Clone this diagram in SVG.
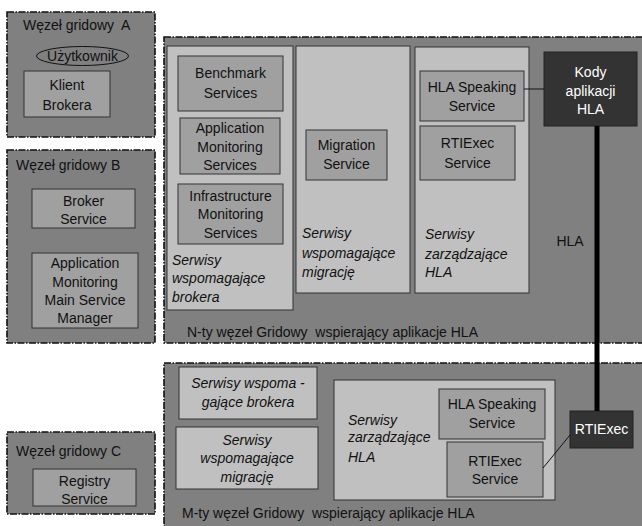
<svg xmlns="http://www.w3.org/2000/svg" width="642" height="526" viewBox="0 0 642 526">
<style>
.node{fill:#808080;stroke:#111;stroke-width:1.6;stroke-dasharray:7 1.5 1.5 1.5}
.panel{fill:#c0c0c0;stroke:#333;stroke-width:1}
.svc{fill:#a0a0a0;stroke:#333;stroke-width:1}
.dark{fill:#333333;stroke:#222;stroke-width:1}
text{font-family:"Liberation Sans",Arial,sans-serif;font-size:14px;fill:#111}
.c{text-anchor:middle}
.i{font-style:italic}
.w{fill:#fff}
</style>
<rect width="642" height="526" fill="#fff"/>
<g id="node-a">
<rect class="node" x="7" y="12" width="148" height="125"/>
<text x="23" y="30" xml:space="preserve">Węzeł gridowy  A</text>
<ellipse cx="82.5" cy="56" rx="46" ry="9.5" fill="none" stroke="#111" stroke-width="1"/>
<text class="c" x="82.5" y="61">Użytkownik</text>
<rect class="svc" x="24" y="71" width="86" height="46"/>
<text class="c" x="67" y="90">Klient</text>
<text class="c" x="67" y="110">Brokera</text>
</g>
<g id="node-b">
<rect class="node" x="7" y="150" width="148" height="193"/>
<text x="16" y="170">Węzeł gridowy B</text>
<rect class="svc" x="32" y="189" width="103" height="39"/>
<text class="c" x="83.5" y="206">Broker</text>
<text class="c" x="83.5" y="224">Service</text>
<rect class="svc" x="32" y="253" width="106" height="75"/>
<text class="c" x="85" y="268">Application</text>
<text class="c" x="85" y="287">Monitoring</text>
<text class="c" x="85" y="305">Main Service</text>
<text class="c" x="85" y="323">Manager</text>
</g>
<g id="node-c">
<rect class="node" x="7" y="432" width="148" height="82"/>
<text x="16" y="456">Węzeł gridowy C</text>
<rect class="svc" x="33" y="469" width="103" height="37"/>
<text class="c" x="84.5" y="486">Registry</text>
<text class="c" x="84.5" y="504">Service</text>
</g>
<g id="node-n">
<rect class="node" x="164" y="37" width="490" height="306"/>
<rect class="panel" x="167" y="46" width="126" height="264"/>
<rect class="panel" x="296" y="46" width="114" height="247"/>
<rect class="panel" x="415" y="47" width="114" height="246"/>
<rect class="svc" x="178" y="56" width="105" height="55"/>
<text class="c" x="230.5" y="78">Benchmark</text>
<text class="c" x="230.5" y="98">Services</text>
<rect class="svc" x="180" y="118" width="100" height="56"/>
<text class="c" x="230" y="133">Application</text>
<text class="c" x="230" y="152">Monitoring</text>
<text class="c" x="230" y="170">Services</text>
<rect class="svc" x="178" y="184" width="105" height="60"/>
<text class="c" x="230.5" y="201">Infrastructure</text>
<text class="c" x="230.5" y="219">Monitoring</text>
<text class="c" x="230.5" y="238">Services</text>
<text class="i" x="172" y="265">Serwisy</text>
<text class="i" x="172" y="283">wspomagające</text>
<text class="i" x="172" y="302">brokera</text>
<rect class="svc" x="306" y="130" width="81" height="50"/>
<text class="c" x="346.5" y="150">Migration</text>
<text class="c" x="346.5" y="169">Service</text>
<text class="i" x="302" y="238">Serwisy</text>
<text class="i" x="302" y="258">wspomagające</text>
<text class="i" x="302" y="277">migrację</text>
<rect class="svc" x="420" y="71" width="104" height="50"/>
<text class="c" x="472" y="92">HLA Speaking</text>
<text class="c" x="472" y="111">Service</text>
<rect class="svc" x="420" y="126" width="95" height="54"/>
<text class="c" x="467.5" y="148">RTIExec</text>
<text class="c" x="467.5" y="168">Service</text>
<text class="i" x="425" y="239">Serwisy</text>
<text class="i" x="425" y="259">zarządzające</text>
<text class="i" x="425" y="277">HLA</text>
<rect class="dark" x="544" y="52" width="93" height="74"/>
<text class="c w" x="590.5" y="77">Kody</text>
<text class="c w" x="590.5" y="96">aplikacji</text>
<text class="c w" x="590.5" y="114">HLA</text>
<text class="c" x="570" y="246">HLA</text>
<text x="187" y="337" xml:space="preserve">N-ty węzeł Gridowy  wspierający aplikacje HLA</text>
</g>
<g id="node-m">
<rect class="node" x="164" y="363" width="490" height="200"/>
<rect class="panel" x="179" y="367" width="138" height="52"/>
<text class="c i" x="248" y="388">Serwisy wspoma -</text>
<text class="c i" x="248" y="407">gające brokera</text>
<rect class="panel" x="176" y="427" width="142" height="62"/>
<text class="c i" x="247" y="445">Serwisy</text>
<text class="c i" x="247" y="463">wspomagające</text>
<text class="c i" x="247" y="482">migrację</text>
<rect class="panel" x="334" y="380" width="221" height="120"/>
<text class="i" x="348" y="425">Serwisy</text>
<text class="i" x="348" y="442">zarządzające</text>
<text class="i" x="348" y="462">HLA</text>
<rect class="svc" x="439" y="389" width="106" height="50"/>
<text class="c" x="492" y="409">HLA Speaking</text>
<text class="c" x="492" y="428">Service</text>
<rect class="svc" x="447" y="442" width="96" height="55"/>
<text class="c" x="495" y="466">RTIExec</text>
<text class="c" x="495" y="484">Service</text>
<rect class="dark" x="570" y="411" width="63" height="37"/>
<text class="c w" x="601.5" y="434">RTIExec</text>
<text x="182" y="518" xml:space="preserve">M-ty węzeł Gridowy  wspierający aplikacje HLA</text>
</g>
<g id="connectors" stroke="#111" fill="none">
<line x1="524" y1="89" x2="544" y2="89" stroke-width="1"/>
<line x1="543" y1="468" x2="570" y2="435" stroke-width="1"/>
<line x1="597" y1="126" x2="597" y2="411" stroke="#000" stroke-width="5"/>
</g>
</svg>
